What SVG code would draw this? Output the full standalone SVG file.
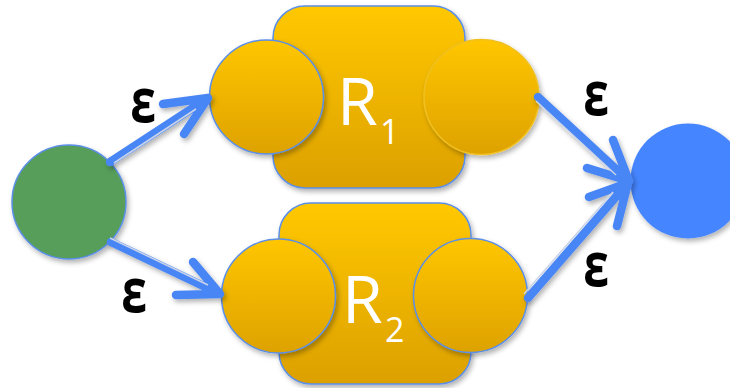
<svg xmlns="http://www.w3.org/2000/svg" width="730" height="388" viewBox="0 0 730 388">
<defs>
<linearGradient id="gy" x1="0" y1="0" x2="0" y2="1">
<stop offset="0" stop-color="#FFC800"/>
<stop offset="1" stop-color="#DCA000"/>
</linearGradient>
<linearGradient id="gc" x1="0" y1="0" x2="0" y2="1">
<stop offset="0" stop-color="#FFC600"/>
<stop offset="1" stop-color="#DEA200"/>
</linearGradient>
<filter id="sh" x="-20%" y="-20%" width="150%" height="150%">
<feDropShadow dx="2" dy="3" stdDeviation="2.5" flood-color="#000" flood-opacity="0.3"/>
</filter>
</defs>
<style>
.box{fill:url(#gy);stroke:#5B8FE8;stroke-width:1.5}
.st{fill:url(#gc);stroke:#5B8FE8;stroke-width:1.5}
.st2{fill:url(#gc);stroke:#F0C020;stroke-width:1.5}
.lbl{font-family:"Open Sans","Noto Sans",sans-serif;fill:#fff}
.eps{font-family:"Open Sans","Noto Sans",sans-serif;font-weight:700;font-size:58px;fill:#000;text-anchor:middle}
.ar{stroke:#4A86F5;stroke-width:8.5;stroke-linecap:round;stroke-linejoin:round;fill:none}
.hl{stroke:#C9D4E8;stroke-width:1.5;stroke-linecap:butt;fill:none}
</style>

<g id="start" filter="url(#sh)">
<circle cx="69" cy="202" r="57" fill="#579E5A" stroke="#5B8FE8" stroke-width="1.5"/>
</g>

<g id="R1">
<rect class="box" x="273" y="6" width="192" height="182" rx="32" filter="url(#sh)"/>
<circle class="st" cx="266.5" cy="97" r="57" filter="url(#sh)"/>
<circle class="st2" cx="481.5" cy="97" r="57.5" filter="url(#sh)"/>
<text class="lbl" x="337" y="125" font-size="66">R</text>
<text class="lbl" x="380" y="144" font-size="34">1</text>
</g>

<g id="R2">
<rect class="box" x="279" y="203" width="192" height="181" rx="32" filter="url(#sh)"/>
<circle class="st" cx="278.5" cy="296" r="57" filter="url(#sh)"/>
<circle class="st" cx="470.5" cy="295.5" r="57" filter="url(#sh)"/>
<text class="lbl" x="342" y="323" font-size="66">R</text>
<text class="lbl" x="385" y="342" font-size="34">2</text>
</g>

<g id="accept" filter="url(#sh)">
<circle cx="688" cy="181" r="57.5" fill="#4485FF"/>
</g>

<g id="connectors" filter="url(#sh)">
<path class="ar" d="M110,162 L208,98 M163,104 L208,98 L184,134"/>
<path class="hl" d="M114,163 L196,109"/>
<path class="ar" d="M111,242 L220,294 M176,295 L220,294 L193,262"/>
<path class="hl" d="M110,238 L208,285"/>
<path class="ar" d="M538,97 L629,181 M587,168 L629,181 L613,140"/>
<path class="hl" d="M536,101 L616,175"/>
<path class="ar" d="M528,298 L628,183 M589,197 L628,183 L617,226"/>
<path class="hl" d="M524,294 L613,192"/>
</g>

<g id="labels">
<text class="eps" transform="translate(143,122) scale(0.8,1.06)">ε</text>
<text class="eps" transform="translate(134,312) scale(0.8,1.06)">ε</text>
<text class="eps" transform="translate(596,115) scale(0.8,1.06)">ε</text>
<text class="eps" transform="translate(596,286) scale(0.8,1.06)">ε</text>
</g>
</svg>
